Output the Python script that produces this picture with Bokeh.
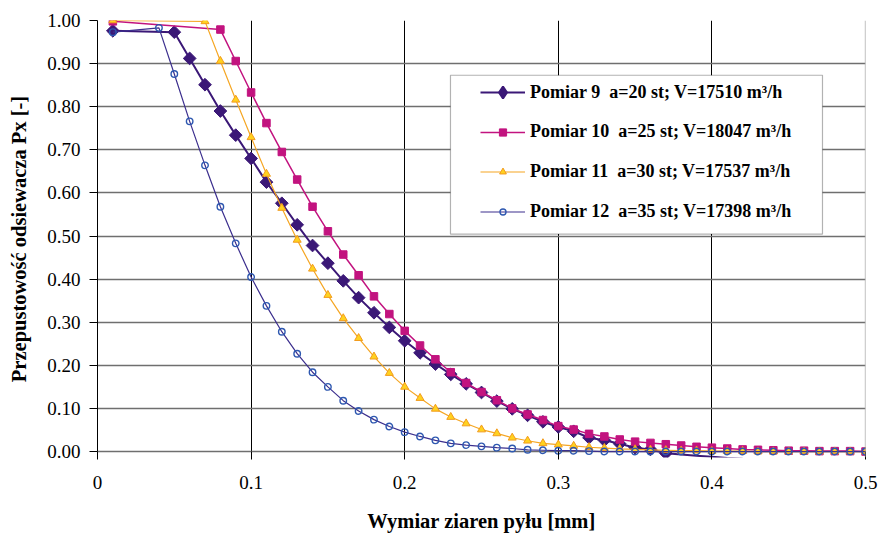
import math
from bokeh.plotting import figure
from bokeh.models import Range1d, FixedTicker, Legend, LegendItem, BoxAnnotation, Span
from bokeh.embed import file_html
from bokeh.resources import INLINE

# ---------------- data ----------------
s9_x = [0.01, 0.05, 0.06, 0.07, 0.08, 0.09, 0.10, 0.11, 0.12, 0.13, 0.14, 0.15, 0.16, 0.17,
        0.18, 0.19, 0.20, 0.21, 0.22, 0.23, 0.24, 0.25, 0.26, 0.27, 0.28, 0.29, 0.30, 0.31,
        0.32, 0.33, 0.34, 0.35, 0.36, 0.37, 0.38, 0.39, 0.40, 0.41, 0.42, 0.43]
s9_y = [0.976, 0.973, 0.912, 0.851, 0.790, 0.734, 0.680, 0.625, 0.576, 0.526, 0.478, 0.437,
        0.396, 0.357, 0.322, 0.288, 0.257, 0.229, 0.203, 0.179, 0.157, 0.137, 0.117, 0.099,
        0.084, 0.069, 0.057, 0.047, 0.032, 0.026, 0.018, 0.009, 0.005, -0.004, -0.007,
        -0.010, -0.012, -0.015, -0.017, -0.018]

s10_x = [0.01, 0.08, 0.09, 0.10, 0.11, 0.12, 0.13, 0.14, 0.15, 0.16, 0.17, 0.18, 0.19, 0.20,
         0.21, 0.22, 0.23, 0.24, 0.25, 0.26, 0.27, 0.28, 0.29, 0.30, 0.31, 0.32, 0.33, 0.34,
         0.35, 0.36, 0.37, 0.38, 0.39, 0.40, 0.41, 0.42, 0.43, 0.44, 0.45, 0.46, 0.47, 0.48,
         0.49, 0.50]
s10_y = [0.998, 0.979, 0.906, 0.833, 0.762, 0.695, 0.631, 0.568, 0.511, 0.457, 0.409, 0.360,
         0.319, 0.280, 0.246, 0.214, 0.184, 0.159, 0.138, 0.119, 0.100, 0.086, 0.073, 0.059,
         0.051, 0.041, 0.035, 0.028, 0.023, 0.020, 0.017, 0.014, 0.011, 0.009, 0.007, 0.005,
         0.004, 0.003, 0.002, 0.002, 0.001, 0.001, 0.001, 0.000]

s11_x = [0.01, 0.07, 0.08, 0.09, 0.10, 0.11, 0.12, 0.13, 0.14, 0.15, 0.16, 0.17, 0.18, 0.19,
         0.20, 0.21, 0.22, 0.23, 0.24, 0.25, 0.26, 0.27, 0.28, 0.29, 0.30, 0.31, 0.32, 0.33,
         0.34, 0.35, 0.36, 0.37, 0.38, 0.39, 0.40, 0.41, 0.42, 0.43, 0.44, 0.45, 0.46, 0.47,
         0.48, 0.49, 0.50]
s11_y = [1.000, 0.998, 0.906, 0.816, 0.729, 0.644, 0.565, 0.491, 0.424, 0.363, 0.309, 0.263,
         0.220, 0.182, 0.150, 0.124, 0.099, 0.080, 0.065, 0.051, 0.042, 0.032, 0.025, 0.019,
         0.016, 0.013, 0.010, 0.008, 0.006, 0.005, 0.004, 0.003, 0.002, 0.002, 0.001, 0.001,
         0.001, 0.000, 0.000, 0.000, 0.000, 0.000, 0.000, 0.000, 0.000]

s12_x = [0.01, 0.04, 0.05, 0.06, 0.07, 0.08, 0.09, 0.10, 0.11, 0.12, 0.13, 0.14, 0.15, 0.16,
         0.17, 0.18, 0.19, 0.20, 0.21, 0.22, 0.23, 0.24, 0.25, 0.26, 0.27, 0.28, 0.29, 0.30,
         0.31, 0.32, 0.33, 0.34, 0.35, 0.36, 0.37, 0.38, 0.39, 0.40, 0.41, 0.42, 0.43, 0.44,
         0.45, 0.46, 0.47, 0.48, 0.49, 0.50]
s12_y = [0.973, 0.983, 0.876, 0.766, 0.664, 0.568, 0.483, 0.405, 0.338, 0.278, 0.227, 0.184,
         0.150, 0.118, 0.094, 0.074, 0.058, 0.045, 0.035, 0.026, 0.019, 0.015, 0.012, 0.009,
         0.007, 0.004, 0.003, 0.002, 0.002, 0.001, 0.000, 0.000, 0.000, 0.000, 0.000, 0.000,
         0.000, 0.000, 0.000, 0.000, 0.000, 0.000, 0.000, 0.000, 0.000, 0.000, 0.000, 0.000]

series_labels = [
    "Pomiar 9  a=20 st; V=17510 m\u00b3/h",
    "Pomiar 10  a=25 st; V=18047 m\u00b3/h",
    "Pomiar 11  a=30 st; V=17537 m\u00b3/h",
    "Pomiar 12  a=35 st; V=17398 m\u00b3/h",
]

x_ticks = [0, 0.1, 0.2, 0.3, 0.4, 0.5]
x_tick_labels = ["0", "0.1", "0.2", "0.3", "0.4", "0.5"]
y_ticks = [0, 0.1, 0.2, 0.3, 0.4, 0.5, 0.6, 0.7, 0.8, 0.9, 1.0]
y_tick_labels = ["0.00", "0.10", "0.20", "0.30", "0.40", "0.50", "0.60", "0.70", "0.80",
                 "0.90", "1.00"]

x_title = "Wymiar ziaren pyłu [mm]"
y_title = "Przepustowość odsiewacza Px [-]"

# ---------------- figure ----------------
FONT = "Liberation Serif"
p = figure(width=879, height=534, output_backend="svg", toolbar_location=None,
           x_range=Range1d(0, 0.5), y_range=Range1d(-6 / 434, 1.0),
           min_border_left=97, min_border_right=14, min_border_top=20, min_border_bottom=74)
p.outline_line_color = None
p.background_fill_color = "white"
p.border_fill_color = "white"

# axes
xa = p.xaxis[0]
xa.ticker = FixedTicker(ticks=x_ticks)
xa.major_label_overrides = dict(zip(x_ticks, x_tick_labels))
xa.axis_line_color = None
xa.major_tick_in = 6
xa.major_tick_out = 2
xa.major_tick_line_color = "black"
xa.minor_tick_line_color = None
xa.major_label_standoff = 16
xa.major_label_text_font = FONT
xa.major_label_text_font_size = "19px"
xa.major_label_text_color = "black"
xa.axis_label = x_title
xa.axis_label_text_font = FONT
xa.axis_label_text_font_size = "20.5px"
xa.axis_label_text_font_style = "bold"
xa.axis_label_text_color = "black"
xa.axis_label_standoff = 18

ya = p.yaxis[0]
ya.ticker = FixedTicker(ticks=y_ticks)
ya.major_label_overrides = dict(zip(y_ticks, y_tick_labels))
ya.bounds = (0, 1)
ya.axis_line_color = "black"
ya.major_tick_in = 0
ya.major_tick_out = 8
ya.major_tick_line_color = "black"
ya.minor_tick_line_color = None
ya.major_label_standoff = 9
ya.major_label_text_font = FONT
ya.major_label_text_font_size = "19px"
ya.major_label_text_color = "black"
ya.axis_label = y_title
ya.axis_label_text_font = FONT
ya.axis_label_text_font_size = "20.5px"
ya.axis_label_text_font_style = "bold"
ya.axis_label_text_color = "black"
ya.axis_label_standoff = 14

# grids
p.xgrid.ticker = FixedTicker(ticks=[0.1, 0.2, 0.3, 0.4])
p.xgrid.grid_line_color = "black"
p.xgrid.grid_line_width = 1
p.ygrid.ticker = FixedTicker(ticks=y_ticks)
p.ygrid.grid_line_color = "#6f6f6f"
p.ygrid.grid_line_width = 1.3
p.add_layout(Span(location=0.5, dimension="height", line_color="#a0a0a0", line_width=1.3))

# ---------------- series ----------------
C9, C10, C11, C12 = "#3B1877", "#C2137F", "#F5A623", "#3C2F8E"

l9 = p.line(s9_x, s9_y, line_color=C9, line_width=2)
m9x = [x for x, y in zip(s9_x, s9_y) if y >= -0.005]
m9y = [y for y in s9_y if y >= -0.005]
m9 = p.scatter(m9x, m9y, marker="square", angle=math.pi / 4, size=9,
               fill_color=C9, line_color=C9)
# hidden twin of series 9 used only for the legend key (diamond shape)
k9 = p.scatter(m9x, m9y, marker="diamond", fill_color=C9, line_color=C9, line_width=2,
               visible=False)

l10 = p.line(s10_x, s10_y, line_color=C10, line_width=1.5)
m10 = p.scatter(s10_x, s10_y, marker="square", size=7.5, fill_color=C10, line_color=C10)

l11 = p.line(s11_x, s11_y, line_color=C11, line_width=1.2)
m11 = p.scatter(s11_x, s11_y, marker="triangle", size=8, fill_color="#FFD21F",
                line_color="#F29B1D", line_width=1)

l12 = p.line(s12_x, s12_y, line_color=C12, line_width=1.2)
m12 = p.scatter(s12_x, s12_y, marker="circle", size=6.5, fill_color=None,
                line_color="#2E58B0", line_width=1.4)

# legend box
box = BoxAnnotation(left=0.2298, right=0.472, top=0.873, bottom=0.5046,
                    fill_color="white", fill_alpha=1, line_color="black", line_width=1.2)
p.add_layout(box)

# one legend per entry, so each key marker gets its own size
entries = [
    (series_labels[0], [l9, k9], 30, 350),
    (series_labels[1], [l10, m10], 18, 315),
    (series_labels[2], [l11, m11], 17, 275),
    (series_labels[3], [l12, m12], 15, 235),
]
for label, rends, gh, ybot in entries:
    lg = Legend(items=[LegendItem(label=label, renderers=rends)], location=(383, ybot))
    lg.margin = 0
    lg.padding = 0
    lg.spacing = 0
    lg.label_height = 20
    lg.glyph_height = gh
    lg.glyph_width = 45
    lg.label_standoff = 5
    lg.border_line_color = None
    lg.background_fill_alpha = 0
    lg.label_text_font = FONT
    lg.label_text_font_style = "bold"
    lg.label_text_font_size = "18px"
    lg.label_text_color = "black"
    p.add_layout(lg)

open("out.html", "w").write(file_html(p, INLINE))
